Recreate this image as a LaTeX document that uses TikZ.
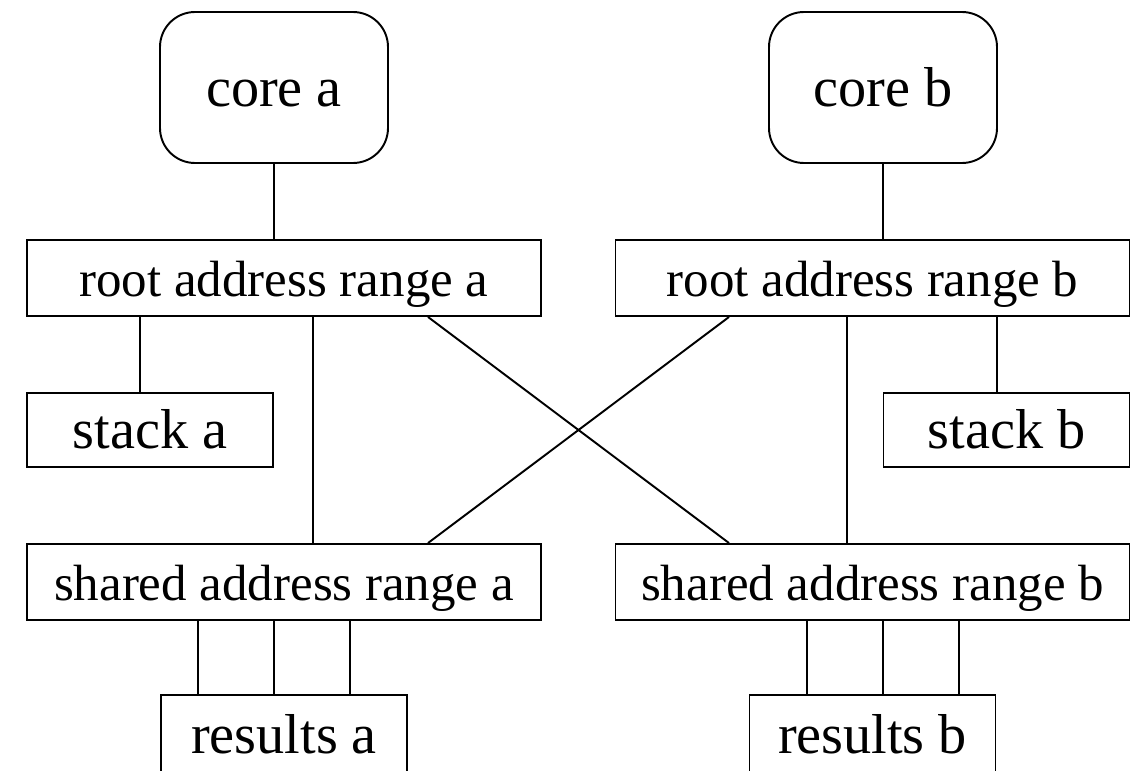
\documentclass[tikz,border=0pt]{standalone}
\usepackage{fontspec}
\setmainfont{Liberation Serif}
\usetikzlibrary{positioning}

\begin{document}
\begin{tikzpicture}[on grid, line width=1.1pt,
  plainbox/.style={draw, text height=24pt, text depth=2.4pt},
  corebox/.style={plainbox, rounded corners=0.7cm, minimum width=4.56cm, minimum height=3.02cm, font=\fontsize{32}{38}\selectfont},
  addrbox/.style={plainbox, minimum width=10.28cm, minimum height=1.52cm, font=\fontsize{29}{35}\selectfont},
  storebox/.style={plainbox, minimum width=4.92cm, minimum height=1.48cm, font=\fontsize{32}{38}\selectfont}]
\useasboundingbox (0,0) rectangle (22.86,15.4);
\node[corebox] (core_a) at (5.48,13.65) {core a};
\node[corebox] (core_b) [right=12.18cm of core_a] {core b};
\node[addrbox] (root_a) [below right=3.81cm and 0.2cm of core_a] {root address range a};
\node[addrbox] (root_b) [right=11.77cm of root_a] {root address range b};
\node[storebox] (stack_a) [below left=3.04cm and 2.68cm of root_a] {stack a};
\node[storebox] (stack_b) [below right=3.04cm and 2.68cm of root_b] {stack b};
\node[addrbox] (shared_a) [below=6.08cm of root_a] {shared address range a};
\node[addrbox] (shared_b) [below=6.08cm of root_b] {shared address range b};
\node[storebox, minimum height=1.6cm] (results_a) [below=3.06cm of shared_a] {results a};
\node[storebox, minimum height=1.6cm] (results_b) [below=3.06cm of shared_b] {results b};
\draw (core_a.south) -- (core_a.south |- root_a.north);
\draw (core_b.south) -- (core_b.south |- root_b.north);
\draw (stack_a.north) ++(-0.2,0) coordinate (sa) -- (sa |- root_a.south);
\draw (stack_b.north) ++(-0.19,0) coordinate (sb) -- (sb |- root_b.south);
\draw (root_a.south) ++(0.58,0) coordinate (ra) -- (ra |- shared_a.north);
\draw (root_b.south) ++(-0.51,0) coordinate (rb) -- (rb |- shared_b.north);
% crossing links
\draw ([xshift=2.88cm]root_a.south) -- ([xshift=-2.87cm]shared_b.north);
\draw ([xshift=-2.87cm]root_b.south) -- ([xshift=2.88cm]shared_a.north);
\foreach \dx in {-1.52,0,1.52} {
  \draw (shared_a.south -| core_a) ++(\dx,0) coordinate (p) -- (p |- results_a.north);
  \draw (shared_b.south -| core_b) ++(\dx,0) coordinate (q) -- (q |- results_b.north);
}
\end{tikzpicture}
\end{document}
